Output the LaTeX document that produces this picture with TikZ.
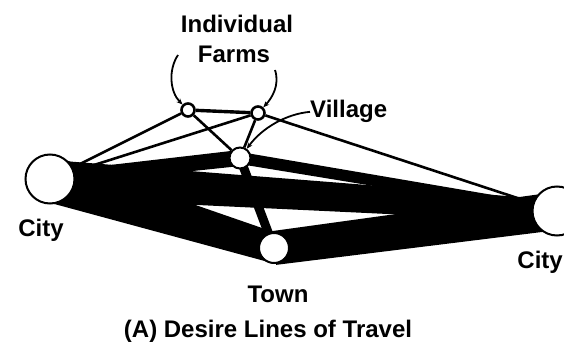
\documentclass[tikz,border=0pt]{standalone}
\usepackage{fontspec}
\setmainfont{Liberation Sans}
\usetikzlibrary{calc,arrows.meta,backgrounds}
\tikzstyle{place} = [circle, draw=black, fill=white, line width=2pt, inner sep=0pt]
\tikzstyle{farm} = [place, minimum size=13pt, line width=2.6pt]
\tikzstyle{tag} = [font=\bfseries\fontsize{24}{27}\selectfont, inner sep=0pt]
\tikzstyle{trip} = [line width=2.6pt]
\tikzstyle{pointer} = [line width=1.8pt, -{Stealth[length=6pt,width=5pt]}]
\newcommand{\desire}[4]{%
  \fill ($(#1)!#3!90:(#2)$) -- ($(#2)!#4!-90:(#1)$) -- ($(#2)!#4!90:(#1)$) -- ($(#1)!#3!-90:(#2)$) -- cycle;}

\begin{document}
\begin{tikzpicture}[x=1pt,y=-1pt]
  \useasboundingbox (0,0) rectangle (564,344);
  \node (cl)[place, minimum size=49pt] at (50,179){};
  \node (cr)[place, minimum size=49pt] at (557,211){};
  \node (town)[place, minimum size=30pt] at (274,248){};
  \node (vil)[place, minimum size=21pt] at (240,158){};
  \node (f1)[farm] at (188,110){};
  \node (f2)[farm] at (258,113){};
  \begin{scope}[on background layer]
    \desire{cl}{cr}{19pt}{11pt}
    \desire{cl}{town}{23pt}{15pt}
    \desire{cl}{vil}{7pt}{8pt}
    \desire{vil}{cr}{6pt}{5pt}
    \desire{town}{cr}{17pt}{19pt}
    \desire{vil}{town}{4.5pt}{4.5pt}
    \draw [trip] (cl)--(f1);
    \draw [trip] (cl)--(f2);
    \draw [trip] (f2)--(cr);
    \draw [trip] (f1)--(vil);
    \draw [trip] (f2)--(vil);
    \draw [trip, line width=3.4pt] (f1)--(f2);
  \end{scope}
  % labels
  \node (indiv)[tag, anchor=base] at (237,33){Individual};
  \node (farms)[tag, anchor=base] at (234,63){Farms};
  \node (vlabel)[tag, anchor=base west] at (310,118){Village};
  \node (cityl)[tag, anchor=base] at (41,237){City};
  \node (cityr)[tag, anchor=base east] at (563,269){City};
  \node (townl)[tag, anchor=base] at (278,302){Town};
  \node (title)[tag, anchor=base] at (268,337){(A) Desire Lines of Travel};
  \coordinate (fl) at (178,55);
  \coordinate (fr) at (275,70);
  \draw [pointer] (fl) .. controls (168,70) and (170,92) .. (f1);
  \draw [pointer] (fr) .. controls (280,85) and (272,98) .. (f2);
  \draw [pointer] (vlabel.west) .. controls (286,114) and (262,128) .. (vil);
\end{tikzpicture}
\end{document}
